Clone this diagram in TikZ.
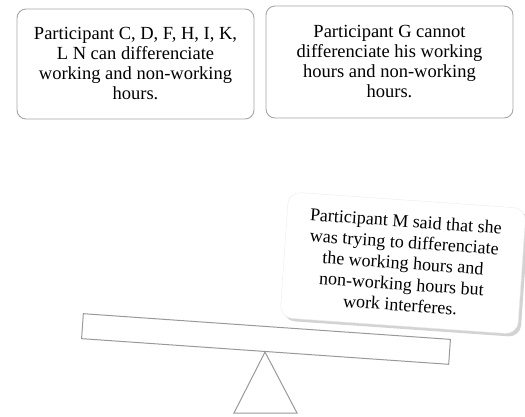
\documentclass[tikz,border=0pt]{standalone}
\usepackage{fontspec}
\setmainfont{Liberation Serif}
\usetikzlibrary{shadows}
\tikzset{
  x=1pt, y=-1pt, % pixel-like units, y grows downwards
  every node/.style={font=\fontsize{18.5}{20}\selectfont, align=center},
  note/.style={draw=gray!70, line width=0.9pt, rounded corners=9pt, fill=white}, % the two upper boxes
  speech/.style={draw=gray!15, rounded corners=12pt, fill=white,
    drop shadow={shadow xshift=3pt, shadow yshift=-3pt, opacity=0.35}}, % the tilted box
  seesaw/.style={draw=gray!80, line width=1pt, fill=white}, % plank and pivot
}

\begin{document}
\begin{tikzpicture}
  \useasboundingbox (0,0) rectangle (525,416);

  \node[note, minimum width=237pt, minimum height=110pt] (1) at (135.5,64)
    {Participant C, D, F, H, I, K,\\L N can differenciate\\working and non-working\\hours.};
  \node[note, minimum width=247pt, minimum height=112pt] (2) at (389.5,62)
    {Participant G cannot\\differenciate his working\\hours and non-working\\hours.};

  % the seesaw
  \node[seesaw, minimum width=368pt, minimum height=25pt, rotate=-4, inner sep=0pt] (plank) at (266,339) {};
  \coordinate (apex) at (265,352);
  \draw[seesaw] (apex) -- (234,413) -- (297,413) -- cycle;

  \node[speech, minimum width=238pt, minimum height=126pt, rotate=-4,
    font=\fontsize{18}{21}\selectfont] (3) at (403,263)
    {Participant M said that she\\was trying to differenciate\\the working hours and\\non-working hours but\\work interferes.};
\end{tikzpicture}
\end{document}
